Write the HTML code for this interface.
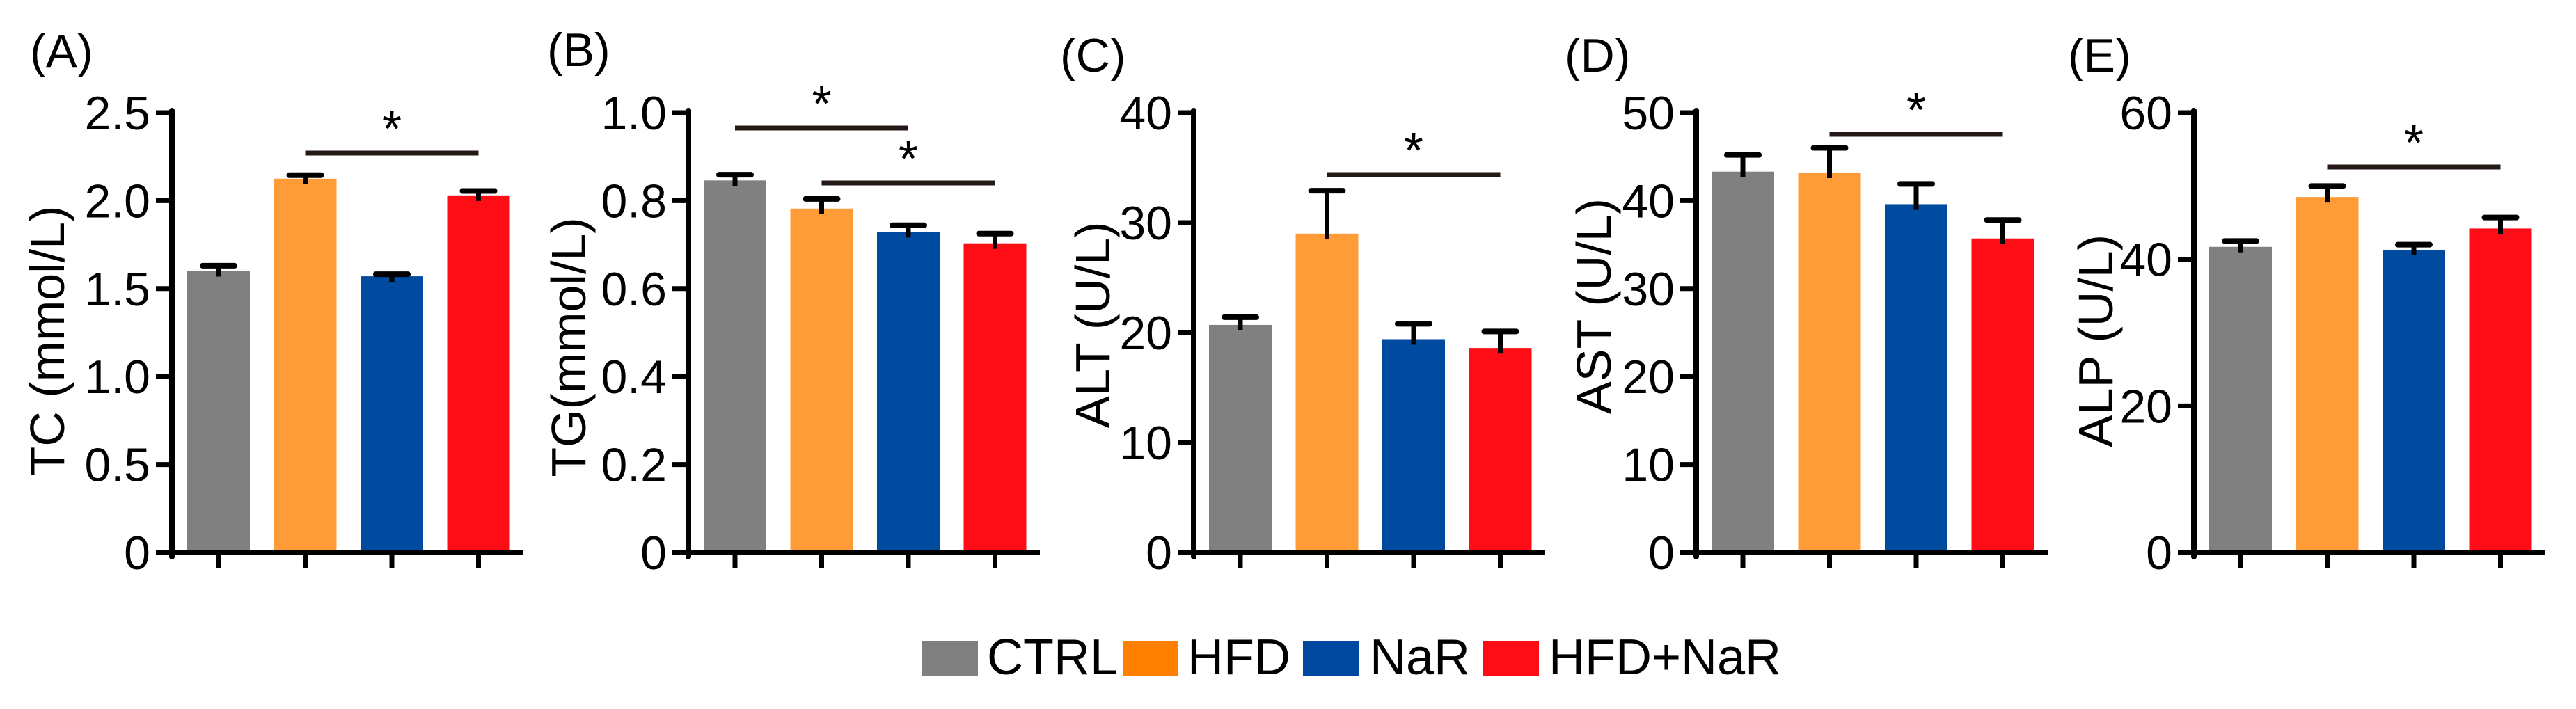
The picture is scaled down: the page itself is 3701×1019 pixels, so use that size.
<!DOCTYPE html>
<html><head><meta charset="utf-8"><style>
html,body{margin:0;padding:0;background:#fff;}
svg{display:block;font-family:"Liberation Sans",Arial,sans-serif;}
</style></head><body>
<svg id="chart" width="3701" height="1019" viewBox="0 0 3701 1019" xmlns="http://www.w3.org/2000/svg">
<rect width="3701" height="1019" fill="#fff"/>
<g id="legend">
<rect x="1325" y="921" width="80" height="50" fill="#808080"/>
<text x="1418" y="969" font-size="72">CTRL</text>
<rect x="1613" y="921" width="80" height="50" fill="#FF8000"/>
<text x="1706" y="969" font-size="72">HFD</text>
<rect x="1872" y="921" width="80" height="50" fill="#0047A0"/>
<text x="1968" y="969" font-size="72">NaR</text>
<rect x="2131" y="921" width="80" height="50" fill="#FF0D16"/>
<text x="2225" y="969" font-size="72">HFD+NaR</text>
</g>
</svg>
<script>
const categories = ["CTRL","HFD","NaR","HFD+NaR"];
const tcValues = [1.60, 2.125, 1.57, 2.03];
const tcErrors = [0.03, 0.02, 0.012, 0.025];
const tcTicks = ["0","0.5","1.0","1.5","2.0","2.5"];
const tgValues = [0.846, 0.782, 0.729, 0.703];
const tgErrors = [0.013, 0.022, 0.015, 0.022];
const tgTicks = ["0","0.2","0.4","0.6","0.8","1.0"];
const altValues = [20.7, 29.0, 19.4, 18.6];
const altErrors = [0.7, 3.9, 1.4, 1.5];
const altTicks = ["0","10","20","30","40"];
const astValues = [43.3, 43.2, 39.6, 35.7];
const astErrors = [1.9, 2.8, 2.3, 2.1];
const astTicks = ["0","10","20","30","40","50"];
const alpValues = [41.7, 48.5, 41.3, 44.2];
const alpErrors = [0.8, 1.5, 0.7, 1.5];
const alpTicks = ["0","20","40","60"];
const tcSig = [[1,3]];
const tgSig = [[0,2],[1,3]];
const altSig = [[1,3]];
const astSig = [[1,3]];
const alpSig = [[1,3]];

const barColors = ["#808080","#FF9C38","#004AA0","#FF0D16"];
const NS = "http://www.w3.org/2000/svg";
const svg = document.getElementById("chart");
function mk(tag, attrs, parent){const e=document.createElementNS(NS,tag);for(const k in attrs)e.setAttribute(k,attrs[k]);(parent||svg).appendChild(e);return e;}

const panels = [
 {key:"tc",letter:"(A)",title:"TC (mmol/L)",axisX:247,max:2.5,values:tcValues,errors:tcErrors,ticks:tcTicks,sig:tcSig,sigY:[220],labelX:43,labelY:97,titleDx:-180,titleY:490},
 {key:"tg",letter:"(B)",title:"TG(mmol/L)",axisX:989,max:1.0,values:tgValues,errors:tgErrors,ticks:tgTicks,sig:tgSig,sigY:[184,263],labelX:786,labelY:95,titleDx:-173,titleY:499},
 {key:"alt",letter:"(C)",title:"ALT (U/L)",axisX:1715,max:40,values:altValues,errors:altErrors,ticks:altTicks,sig:altSig,sigY:[251],labelX:1523,labelY:103,titleDx:-146,titleY:467},
 {key:"ast",letter:"(D)",title:"AST (U/L)",axisX:2437,max:50,values:astValues,errors:astErrors,ticks:astTicks,sig:astSig,sigY:[193],labelX:2248,labelY:103,titleDx:-148,titleY:440},
 {key:"alp",letter:"(E)",title:"ALP (U/L)",axisX:3152,max:60,values:alpValues,errors:alpErrors,ticks:alpTicks,sig:alpSig,sigY:[240],labelX:2971,labelY:103,titleDx:-142,titleY:490}
];
const Y0=794, YTOP=162;
panels.forEach(p=>{
  const g=mk("g",{});
  
  
  const yScale=v=>Y0-(v/p.max)*(Y0-YTOP);
  const xCenter=i=>p.axisX+22+45+i*124.5;
  p.values.forEach((v,i)=>{
    const b=mk("rect",{x:xCenter(i)-45,y:yScale(v),width:90,height:Y0-yScale(v),fill:barColors[i]},g);
    
    
    const top=yScale(v+p.errors[i]);
    const s=mk("line",{x1:xCenter(i),x2:xCenter(i),y1:yScale(v)+8,y2:top,stroke:"#000","stroke-width":7},g);
    
    
    const c=mk("line",{x1:xCenter(i)-23,x2:xCenter(i)+23,y1:top,y2:top,stroke:"#000","stroke-width":8,"stroke-linecap":"round"},g);
    
    
    const t=mk("line",{x1:xCenter(i),x2:xCenter(i),y1:Y0,y2:816,stroke:"#000","stroke-width":7},g);
    
    
  });
  const ya=mk("line",{x1:p.axisX,x2:p.axisX,y1:YTOP-3,y2:Y0+6,stroke:"#000","stroke-width":8,"stroke-linecap":"round"},g);
  
  
  const xa=mk("line",{x1:p.axisX-23,x2:p.axisX+505,y1:Y0,y2:Y0,stroke:"#000","stroke-width":8},g);
  
  
  p.ticks.forEach((lab,i)=>{
    const v=i*p.max/(p.ticks.length-1);
    const y=yScale(v);
    const tk=mk("line",{x1:p.axisX-23,x2:p.axisX,y1:y,y2:y,stroke:"#000","stroke-width":7},g);
    
    
    const tl=mk("text",{x:p.axisX-31,y:y+24,"font-size":68,"text-anchor":"end"},g);
    tl.textContent=lab;
    
    
  });
  const tt=mk("text",{x:0,y:0,"font-size":70,"text-anchor":"middle",transform:"translate("+(p.axisX+p.titleDx+25)+","+p.titleY+") rotate(-90)"},g);
  tt.textContent=p.title;
  
  
  const pl=mk("text",{x:p.labelX,y:p.labelY,"font-size":68},g);
  pl.textContent=p.letter;
  
  
  p.sig.forEach((pair,k)=>{
    const y=p.sigY[k];
    const sl=mk("line",{x1:xCenter(pair[0]),x2:xCenter(pair[1]),y1:y,y2:y,stroke:"#231815","stroke-width":7},g);
    
    
    const st=mk("text",{x:(xCenter(pair[0])+xCenter(pair[1]))/2,y:y-10,"font-size":72,"text-anchor":"middle"},g);
    st.textContent="*";
    
    
  });
});
</script>
</body></html>
